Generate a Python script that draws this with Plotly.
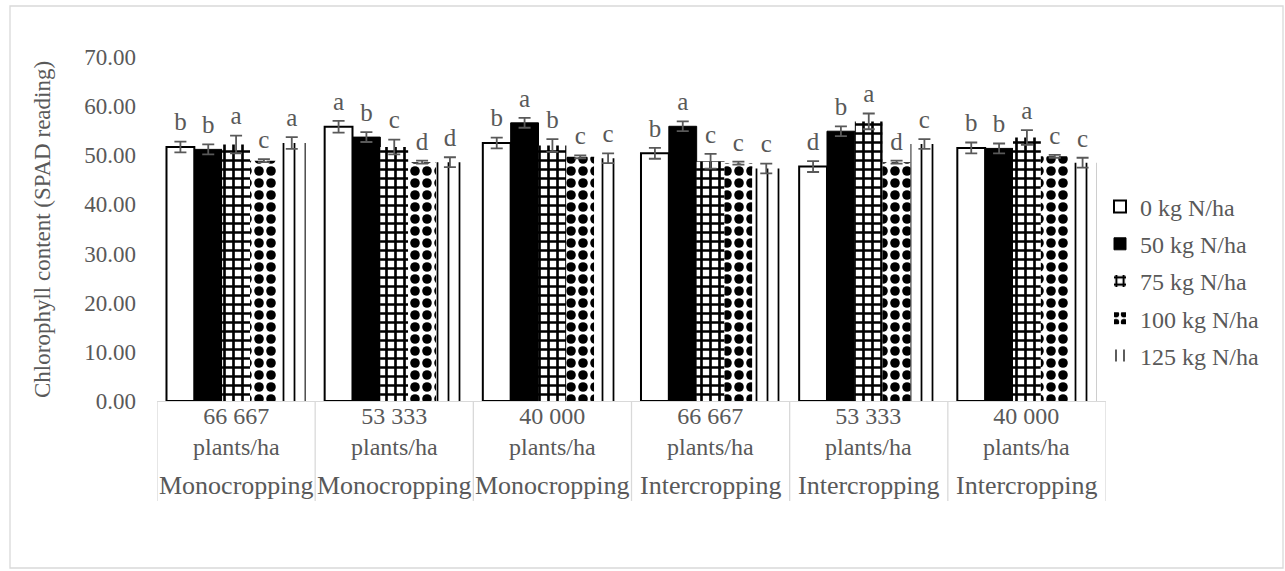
import plotly.graph_objects as go

# ---------------- data ----------------
density_labels = ["66 667<br>plants/ha", "53 333<br>plants/ha", "40 000<br>plants/ha",
                  "66 667<br>plants/ha", "53 333<br>plants/ha", "40 000<br>plants/ha"]
system_labels = ["Monocropping", "Monocropping", "Monocropping",
                 "Intercropping", "Intercropping", "Intercropping"]
series_names = ["0 kg N/ha", "50 kg N/ha", "75 kg N/ha", "100 kg N/ha", "125 kg N/ha"]

n0 = [51.7, 55.8, 52.5, 50.4, 47.7, 51.5]
n50 = [51.2, 53.7, 56.6, 55.9, 54.9, 51.4]
n75 = [52.2, 51.7, 52.0, 48.8, 56.9, 53.6]
n100 = [48.9, 48.6, 49.7, 48.4, 48.6, 49.8]
n125 = [52.5, 48.6, 49.4, 47.3, 52.3, 48.5]

e0 = [1.1, 1.2, 1.1, 1.1, 1.1, 1.1]
e50 = [1.0, 1.0, 1.0, 1.0, 1.0, 1.0]
e75 = [1.8, 1.5, 1.3, 1.5, 1.6, 1.5]
e100 = [0.3, 0.3, 0.3, 0.3, 0.3, 0.3]
e125 = [1.2, 1.0, 1.0, 1.0, 1.0, 1.0]

l0 = ["b", "a", "b", "b", "d", "b"]
l50 = ["b", "b", "a", "a", "b", "b"]
l75 = ["a", "c", "b", "c", "a", "a"]
l100 = ["c", "d", "c", "c", "d", "c"]
l125 = ["a", "d", "c", "c", "c", "c"]

values = [n0, n50, n75, n100, n125]
errors = [e0, e50, e75, e100, e125]
letters = [l0, l50, l75, l100, l125]

# ---------------- styling ----------------
FONT = "Liberation Serif"
GREY = "#595959"
LINE = "#d9d9d9"
W, H = 1285, 571
L, R, T, B = 157, 179, 57, 170
PW, PH = W - L - R, H - T - B


def px_x(p):
    return (p - L) / PW


def px_y(p):
    return (H - B - p) / PH


styles = [
    dict(color="white", line=dict(color="black", width=2)),
    dict(color="black", line=dict(color="black", width=1)),
    dict(color="white", line=dict(width=0),
         pattern=dict(shape="+", fgcolor="black", bgcolor="white", fgopacity=1,
                      size=9, solidity=0.5)),
    dict(color="white", line=dict(width=0),
         pattern=dict(shape=".", fgcolor="black", bgcolor="white", fgopacity=1,
                      size=12, solidity=0.5)),
    dict(color="white", line=dict(width=0),
         pattern=dict(shape="|", fgcolor="black", bgcolor="white", fgopacity=1,
                      size=11, solidity=0.16)),
]

bargap = 0.12
nser = len(series_names)
bw = (1 - bargap) / nser
xs = list(range(len(density_labels)))

fig = go.Figure()
for j, name in enumerate(series_names):
    fig.add_trace(go.Bar(
        x=xs, y=values[j], name=name, marker=styles[j], legendgroup=name,
        error_y=dict(type="data", array=errors[j], color=GREY, thickness=1.8, width=6),
    ))

for j, name in enumerate(series_names):
    fig.add_trace(go.Scatter(
        x=[g + (j - (nser - 1) / 2) * bw for g in xs],
        y=[v + e + 1.0 for v, e in zip(values[j], errors[j])],
        mode="text", text=letters[j], textposition="top center",
        textfont=dict(family=FONT, size=25, color=GREY),
        showlegend=False, hoverinfo="skip",
    ))

# category labels
for g in xs:
    fig.add_annotation(x=g, y=px_y(431), xref="x", yref="paper", text=density_labels[g],
                       showarrow=False, font=dict(family=FONT, size=24, color=GREY),
                       yanchor="middle")
    fig.add_annotation(x=g, y=px_y(485), xref="x", yref="paper", text=system_labels[g],
                       showarrow=False, font=dict(family=FONT, size=26, color=GREY),
                       yanchor="middle")

# dividers
for g in range(len(xs) + 1):
    fig.add_shape(type="line", x0=g - 0.5, x1=g - 0.5, xref="x", yref="paper",
                  y0=0, y1=px_y(501), line=dict(color=LINE, width=1.3))

# chart border
fig.add_shape(type="rect", xref="paper", yref="paper",
              x0=px_x(10), x1=px_x(1283), y0=px_y(568), y1=px_y(6),
              line=dict(color=LINE, width=1.3))

# y title
fig.add_annotation(x=px_x(42), y=px_y(230), xref="paper", yref="paper",
                   xanchor="center", yanchor="middle",
                   text="Chlorophyll content (SPAD reading)", textangle=-90,
                   showarrow=False, font=dict(family=FONT, size=23, color=GREY))

fig.update_layout(
    width=W, height=H, margin=dict(l=L, r=R, t=T, b=B),
    paper_bgcolor="white", plot_bgcolor="white",
    barmode="group", bargap=bargap, bargroupgap=0,
    font=dict(family=FONT, color=GREY),
    legend=dict(x=px_x(1100), y=px_y(281), xanchor="left", yanchor="middle",
                font=dict(family=FONT, size=24, color=GREY),
                tracegroupgap=3, traceorder="grouped", itemwidth=30),
    showlegend=True,
)
fig.update_xaxes(range=[-0.5, len(xs) - 0.5], showticklabels=False, showgrid=False,
                 zeroline=False, showline=True, linecolor=LINE, linewidth=1.3, ticks="")
fig.update_yaxes(range=[0, 70], dtick=10, tickformat=".2f", showgrid=False, zeroline=False,
                 showline=False, ticks="", ticklabelstandoff=20,
                 tickfont=dict(family=FONT, size=23, color=GREY))

fig.write_html("out.html")
